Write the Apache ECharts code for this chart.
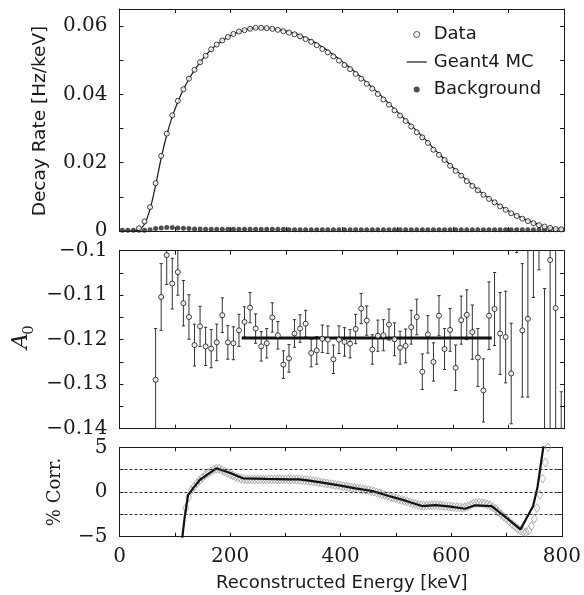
<!DOCTYPE html>
<html>
<head>
<meta charset="utf-8">
<script src="https://cdn.jsdelivr.net/npm/echarts@6/dist/echarts.min.js"></script>
<style>
html,body{margin:0;padding:0;background:#fff;}
#chart{width:584px;height:595px;}
</style>
</head>
<body>
<div id="chart"></div>
<script>
// ---------- Top panel: decay rate ----------
const binEnergy = [5,15,25,35,45,55,65,75,85,95,105,115,125,135,145,155,165,175,185,195,205,215,225,235,245,255,265,275,285,295,305,315,325,335,345,355,365,375,385,395,405,415,425,435,445,455,465,475,485,495,505,515,525,535,545,555,565,575,585,595,605,615,625,635,645,655,665,675,685,695,705,715,725,735,745,755,765,775,785,795];
const dataRate = [null,null,null,0.0008,0.0028,0.0070,0.0140,0.0220,0.0285,0.0339,0.0381,0.0415,0.0446,0.0472,0.0494,0.0513,0.0532,0.0546,0.0558,0.0568,0.0577,0.0584,0.0588,0.0592,0.0595,0.0595,0.0594,0.0592,0.0589,0.0585,0.0581,0.0576,0.0570,0.0562,0.0554,0.0544,0.0533,0.0523,0.0511,0.0499,0.0486,0.0474,0.0460,0.0446,0.0431,0.0417,0.0401,0.0385,0.0370,0.0353,0.0338,0.0322,0.0306,0.0289,0.0274,0.0258,0.0238,0.0223,0.0208,0.0191,0.0176,0.0162,0.0146,0.0132,0.0119,0.0106,0.0094,0.0084,0.0072,0.0062,0.0052,0.0044,0.0036,0.0029,0.0023,0.0017,0.0013,0.0009,0.0006,0.0005];
const mcRate = [0,0,0,0.0004,0.0020,0.0064,0.0134,0.0213,0.0281,0.0335,0.0378,0.0414,0.0445,0.0471,0.0494,0.0514,0.0531,0.0545,0.0557,0.0567,0.0576,0.0583,0.0588,0.0592,0.0594,0.0595,0.0595,0.0593,0.0590,0.0587,0.0583,0.0579,0.0573,0.0566,0.0558,0.0549,0.0539,0.0528,0.0516,0.0504,0.0491,0.0478,0.0464,0.0450,0.0435,0.0420,0.0405,0.0389,0.0373,0.0357,0.0341,0.0325,0.0309,0.0293,0.0277,0.0260,0.0242,0.0226,0.0210,0.0194,0.0179,0.0164,0.0149,0.0135,0.0121,0.0108,0.0096,0.0085,0.0074,0.0064,0.0054,0.0046,0.0038,0.0031,0.0025,0.0019,0.0014,0.0010,0.0007,0.0005];
const bkgRate = [0.0002,0.0002,0.0002,0.0002,0.0002,0.0004,0.0007,0.0009,0.0010,0.0010,0.0009,0.0008,0.0007,0.0006,0.0006,0.0005,0.0005,0.0005,0.0005,0.0005,0.0005,0.0005,0.0005,0.0005,0.0005,0.0005,0.0005,0.0005,0.0005,0.0005,0.0004,0.0004,0.0004,0.0004,0.0004,0.0004,0.0004,0.0004,0.0004,0.0004,0.0004,0.0004,0.0004,0.0004,0.0004,0.0004,0.0004,0.0004,0.0004,0.0004,0.0004,0.0004,0.0004,0.0004,0.0004,0.0004,0.0004,0.0004,0.0004,0.0004,0.0004,0.0004,0.0004,0.0004,0.0004,0.0004,0.0004,0.0004,0.0004,0.0004,0.0004,0.0004,0.0004,0.0004,0.0004,0.0004,0.0004,0.0004,0.0004,0.0004];

// ---------- Middle panel: asymmetry A0 ----------
const asymEnergy = [65,75,85,95,105,115,125,135,145,155,165,175,185,195,205,215,225,235,245,255,265,275,285,295,305,315,325,335,345,355,365,375,385,395,405,415,425,435,445,455,465,475,485,495,505,515,525,535,545,555,565,575,585,595,605,615,625,635,645,655,665,675,685,695,705,715,725,735,745,755,765,775,785,795];
const asymValue = [-0.1290,-0.1104,-0.1010,-0.1074,-0.1048,-0.1118,-0.1149,-0.1212,-0.1170,-0.1215,-0.1220,-0.1206,-0.1145,-0.1206,-0.1208,-0.1179,-0.1160,-0.1128,-0.1175,-0.1215,-0.1208,-0.1150,-0.1190,-0.1256,-0.1242,-0.1186,-0.1175,-0.1164,-0.1230,-0.1224,-0.1198,-0.1200,-0.1244,-0.1200,-0.1205,-0.1209,-0.1176,-0.1130,-0.1157,-0.1222,-0.1191,-0.1190,-0.1166,-0.1199,-0.1218,-0.1214,-0.1172,-0.1149,-0.1272,-0.1188,-0.1250,-0.1146,-0.1221,-0.1178,-0.1263,-0.1156,-0.1144,-0.1183,-0.1240,-0.1314,-0.1146,-0.1131,-0.1186,-0.1194,-0.1276,-0.0880,-0.1179,-0.1153,-0.0850,-0.0800,-0.1650,-0.1021,-0.1129,-0.1800];
const asymError = [0.0115,0.0075,0.0066,0.0057,0.0052,0.0051,0.0050,0.0047,0.0045,0.0043,0.0043,0.0041,0.0039,0.0038,0.0037,0.0036,0.0034,0.0034,0.0033,0.0033,0.0033,0.0033,0.0031,0.0031,0.0031,0.0031,0.0031,0.0030,0.0031,0.0031,0.0031,0.0031,0.0032,0.0031,0.0032,0.0032,0.0033,0.0034,0.0033,0.0033,0.0035,0.0035,0.0035,0.0037,0.0037,0.0038,0.0038,0.0040,0.0040,0.0042,0.0043,0.0045,0.0046,0.0048,0.0051,0.0054,0.0056,0.0061,0.0065,0.0071,0.0076,0.0082,0.0092,0.0103,0.0113,0.0124,0.0150,0.0176,0.0255,0.0243,0.0565,0.0500,0.0500,0.0483];
const fitEnergy = [220, 670];
const fitValue = [-0.1196, -0.1196];

// ---------- Bottom panel: % correction ----------
const corrEnergy = [110,118,124,133,145,160,175,199,223,265,307,325,343,367,397,427,457,487,517,547,571,595,625,643,673,697,725,748,756,763,770];
const corrValue = [-7,-2.76,-0.34,0.41,1.34,2.0,2.65,2.16,1.53,1.46,1.42,1.42,1.27,1.04,0.75,0.41,0.11,-0.45,-0.97,-1.57,-1.46,-1.6,-1.87,-1.49,-1.57,-2.76,-4.18,-1.57,0.6,3.58,6.5];
const bandEnergy = [120,125,130,135,140,145,150,155,160,165,170,175,180,185,190,195,200,205,210,215,220,225,230,235,240,245,250,255,260,265,270,275,280,285,290,295,300,305,310,315,320,325,330,335,340,345,350,355,360,365,370,375,380,385,390,395,400,405,410,415,420,425,430,435,440,445,450,455,460,465,470,475,480,485,490,495,500,505,510,515,520,525,530,535,540,545,550,555,560,565,570,575,580,585,590,595,600,605,610,615,620,625,630,635,640,645,650,655,660,665,670,675,680,685,690,695,700,705,710,715,720,725,730,735,740,745,750,755,760,765,770,775];
const bandValue = [-1.8,-0.6,0.2,0.6,1.0,1.3,1.6,1.9,2.1,2.3,
  2.5,2.6,2.6,2.45,2.3,2.15,2.0,1.85,1.7,1.6,
  1.5,1.45,1.4,1.4,1.4,1.4,1.4,1.4,1.4,1.4,
  1.4,1.4,1.4,1.4,1.4,1.4,1.4,1.4,1.4,1.4,
  1.4,1.38,1.35,1.32,1.3,1.25,1.2,1.15,1.1,1.05,
  1.0,0.95,0.9,0.85,0.8,0.75,0.7,0.65,0.6,0.55,
  0.5,0.45,0.4,0.35,0.3,0.25,0.2,0.12,0.05,-0.05,
  -0.15,-0.25,-0.35,-0.45,-0.55,-0.62,-0.7,-0.8,-0.9,-0.97,
  -1.05,-1.15,-1.25,-1.35,-1.45,-1.5,-1.55,-1.52,-1.5,-1.47,
  -1.45,-1.47,-1.5,-1.55,-1.6,-1.62,-1.65,-1.67,-1.7,-1.72,
  -1.75,-1.7,-1.6,-1.45,-1.3,-1.25,-1.2,-1.25,-1.3,-1.4,
  -1.5,-1.7,-1.9,-2.2,-2.5,-2.75,-3.0,-3.3,-3.6,-3.85,
  -4.1,-4.3,-4.45,-4.5,-4.3,-3.8,-3.0,-1.8,-0.3,1.5,
  3.3,5.0];
const refLines = [2.5, 0, -2.5];

// ---------- helpers ----------
const INK = '#1a1a1a';
const SERIF = '"DejaVu Serif", serif';
const SANS = '"DejaVu Sans", sans-serif';
const zip = (xs, ys) => xs.map((x, i) => [x, ys[i]]);
const minus = s => s.replace('-', '\u2212');

function xAxis(g, pos, labels) {
  return {
    type: 'value', gridIndex: g, position: pos, min: 0, max: 800, interval: 100,
    axisLine: { show: true, onZero: false, lineStyle: { color: INK, width: 1 } },
    axisTick: { show: true, inside: true, length: 4, lineStyle: { color: INK, width: 1 } },
    axisLabel: {
      show: labels, margin: 10, color: INK, fontFamily: SERIF, fontSize: 20,
      formatter: v => (v % 200 === 0 ? String(v) : '')
    },
    splitLine: { show: false }
  };
}
function yAxis(g, pos, min, max, interval, fmt) {
  return {
    type: 'value', gridIndex: g, position: pos, min: min, max: max, interval: interval,
    axisLine: { show: true, onZero: false, lineStyle: { color: INK, width: 1 } },
    axisTick: { show: true, inside: true, length: 4, lineStyle: { color: INK, width: 1 } },
    axisLabel: { show: !!fmt, margin: 12, color: INK, fontFamily: SERIF, fontSize: 20, formatter: fmt || '' },
    splitLine: { show: false }
  };
}
const fmtTop = v => {
  const k = Math.round(v * 1000);
  if (Math.abs(v * 1000 - k) > 1e-6 || k % 20 !== 0) return '';
  return String(k / 1000);
};
const fmtMid = v => {
  const k = Math.round(v * 1000);
  if (k % 10 !== 0) return '';
  return minus(String(k / 1000));
};
const fmtBot = v => {
  if (Math.abs(Math.round(v) - v) > 1e-9 || Math.round(v) % 5 !== 0) return '';
  return minus(String(Math.round(v)));
};

const L = 119.5, W = 444.5;
const chart = echarts.init(document.getElementById('chart'), null, { renderer: 'canvas' });

chart.setOption({
  animation: false,
  backgroundColor: '#fff',
  grid: [
    { left: L, width: W, top: 9, height: 222 },
    { left: L, width: W, top: 250.7, height: 178 },
    { left: L, width: W, top: 447.3, height: 89.4 }
  ],
  xAxis: [
    xAxis(0, 'bottom', false), xAxis(0, 'top', false),
    xAxis(1, 'bottom', false), xAxis(1, 'top', false),
    xAxis(2, 'bottom', true), xAxis(2, 'top', false)
  ],
  yAxis: [
    yAxis(0, 'left', 0, 0.065, 0.01, fmtTop), yAxis(0, 'right', 0, 0.065, 0.01, null),
    yAxis(1, 'left', -0.14, -0.1, 0.005, fmtMid), yAxis(1, 'right', -0.14, -0.1, 0.005, null),
    yAxis(2, 'left', -5, 5, 2.5, fmtBot), yAxis(2, 'right', -5, 5, 2.5, null)
  ],
  legend: {
    orient: 'vertical', left: 399.7, top: 19.5, itemWidth: 24, itemHeight: 6, itemGap: 7.5,
    textStyle: { fontFamily: SANS, fontSize: 18, color: INK, lineHeight: 20 },
    data: [
      { name: 'Data', itemStyle: { color: '#fff', borderColor: '#111', borderWidth: 0.9 } },
      { name: 'Geant4 MC', icon: 'path://M0,0M24,6M2,2.4h20v1.2h-20z', itemStyle: { color: INK } },
      { name: 'Background' }
    ]
  },
  graphic: [
    { type: 'text', x: 40, y: 121, rotation: Math.PI / 2,
      style: { text: 'Decay Rate [Hz/keV]', font: '18.5px ' + SANS, fill: INK, align: 'center', verticalAlign: 'middle' } },
    { type: 'text', x: 21, y: 341, rotation: Math.PI / 2,
      style: { text: 'A', font: 'italic 22px ' + SERIF, fill: INK, align: 'center', verticalAlign: 'middle' } },
    { type: 'text', x: 29, y: 330, rotation: Math.PI / 2,
      style: { text: '0', font: '15px ' + SERIF, fill: INK, align: 'center', verticalAlign: 'middle' } },
    { type: 'text', x: 55, y: 492, rotation: Math.PI / 2,
      style: { text: '% Corr.', font: '18px ' + SERIF, fill: INK, align: 'center', verticalAlign: 'middle' } },
    { type: 'text', x: 341.75, y: 583,
      style: { text: 'Reconstructed Energy [keV]', font: '18px ' + SANS, fill: INK, align: 'center', verticalAlign: 'middle' } }
  ],
  series: [
    // top panel
    { name: 'Geant4 MC', type: 'line', xAxisIndex: 0, yAxisIndex: 0, data: zip(binEnergy, mcRate),
      showSymbol: false, symbol: 'none', smooth: 0.3, itemStyle: { color: INK },
      lineStyle: { color: INK, width: 1.2 }, z: 2 },
    { name: 'Background', type: 'scatter', xAxisIndex: 0, yAxisIndex: 0, data: zip(binEnergy, bkgRate),
      symbol: 'circle', symbolSize: 5, itemStyle: { color: '#222' }, z: 3 },
    { name: 'Data', type: 'scatter', xAxisIndex: 0, yAxisIndex: 0,
      data: zip(binEnergy, dataRate).filter(p => p[1] !== null),
      symbol: 'circle', symbolSize: 5, itemStyle: { color: '#fff', borderColor: '#111', borderWidth: 1 }, z: 4 },
    // middle panel
    { type: 'custom', xAxisIndex: 2, yAxisIndex: 2, clip: true, z: 2,
      data: asymEnergy.map((e, i) => [e, asymValue[i], asymError[i]]),
      encode: { x: 0, y: 1 },
      renderItem: (params, api) => {
        const x = api.value(0), y = api.value(1), e = api.value(2);
        const lo = api.coord([x, y - e]), hi = api.coord([x, y + e]);
        const cw = 1.6, st = { stroke: '#333', lineWidth: 1 };
        return { type: 'group', children: [
          { type: 'line', shape: { x1: lo[0], y1: lo[1], x2: hi[0], y2: hi[1] }, style: st },
          { type: 'line', shape: { x1: lo[0] - cw, y1: lo[1], x2: lo[0] + cw, y2: lo[1] }, style: st },
          { type: 'line', shape: { x1: hi[0] - cw, y1: hi[1], x2: hi[0] + cw, y2: hi[1] }, style: st }
        ] };
      } },
    { type: 'line', xAxisIndex: 2, yAxisIndex: 2, data: zip(fitEnergy, fitValue), showSymbol: false, symbol: 'none',
      lineStyle: { color: '#111', width: 3 }, z: 3 },
    { type: 'scatter', xAxisIndex: 2, yAxisIndex: 2, data: zip(asymEnergy, asymValue), clip: true,
      symbol: 'circle', symbolSize: 5, itemStyle: { color: '#fff', borderColor: '#111', borderWidth: 1 }, z: 4 },
    // bottom panel
    { type: 'scatter', xAxisIndex: 4, yAxisIndex: 4, data: zip(bandEnergy, bandValue), clip: true,
      symbol: 'diamond', symbolSize: [6, 9], itemStyle: { color: 'rgba(255,255,255,0)', borderColor: '#8c8c8c', borderWidth: 0.8 }, z: 2,
      markLine: { silent: true, symbol: 'none', label: { show: false },
        lineStyle: { color: '#333', width: 1, type: [3, 2] },
        data: refLines.map(v => ({ yAxis: v })) } },
    { type: 'line', xAxisIndex: 4, yAxisIndex: 4, data: zip(corrEnergy, corrValue), showSymbol: false, symbol: 'none',
      clip: true, lineStyle: { color: '#111', width: 2.2 }, z: 3 }
  ]
});
</script>
</body>
</html>
